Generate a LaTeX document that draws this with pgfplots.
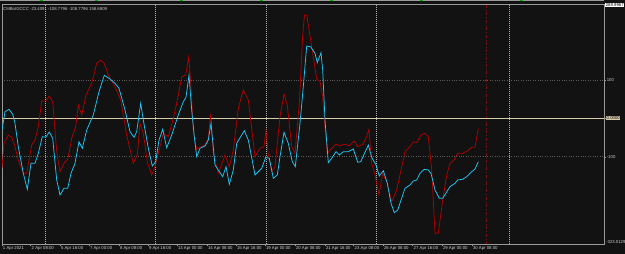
\documentclass[border=0pt]{standalone}
\usepackage{pgfplots}
\pgfplotsset{compat=1.18}
\usepackage{fontspec}
\setmainfont{Liberation Sans}
\definecolor{bg}{HTML}{121212}
\definecolor{framec}{HTML}{9A9A9A}
\definecolor{vgrid}{HTML}{B4B4B4}
\definecolor{hgrid}{HTML}{5A5A5A}
\definecolor{zeroc}{HTML}{D8CBA8}
\definecolor{cblue}{HTML}{1EC8F5}
\definecolor{cred}{HTML}{B00000}
\definecolor{lbl}{HTML}{D0D0D0}
\definecolor{sepred}{HTML}{7A1010}
\newcommand\tf{\fontsize{4.3}{5}\selectfont}
\begin{document}
\begin{tikzpicture}
\path[use as bounding box, fill=bg] (0,0) rectangle (625bp,254bp);
\draw[framec, line width=0.8bp] (0,253.2bp) -- (604bp,253.2bp);
\foreach \gx in {40,95,180,260,330,420,520} {\draw[green!70!black, line width=0.8bp] (\gx bp,253.2bp) -- ++(3bp,0);}
\begin{axis}[at={(2bp,10bp)}, anchor=south west, scale only axis,
  width=602bp, height=240bp,
  xmin=2, xmax=604, ymin=-326.5, ymax=296.9,
  axis background/.style={fill=bg},
  axis line style={framec, line width=0.8bp},
  xtick={2,30.7,60,89,119,148,177,207,236,265,295,325,353.7,383,412.7,442,472},
  xticklabels={1 Apr 2021,2 Apr 08:00,5 Apr 16:00,7 Apr 00:00,8 Apr 08:00,9 Apr 16:00,13 Apr 00:00,14 Apr 08:00,15 Apr 16:00,19 Apr 00:00,20 Apr 08:00,21 Apr 16:00,23 Apr 08:00,26 Apr 08:00,27 Apr 16:00,29 Apr 00:00,30 Apr 08:00},
  ticklabel style={font=\tf, text=lbl},
  xticklabel style={anchor=north west, inner sep=0.5bp, xshift=0.3bp},
  xtick pos=bottom, ytick pos=right, yticklabel pos=right,
  tick align=outside, major tick length=2bp,
  tick style={framec, line width=0.5bp},
  ytick={100,-100}, yticklabels={100,-100},
  yticklabel style={anchor=west, inner sep=0.6bp},
  ymajorgrids, major grid style={hgrid, dotted, line width=0.6bp},
  extra y ticks={0}, extra y tick labels={0.0000},
  extra y tick style={grid=none, yticklabel style={fill=zeroc, text=black, inner sep=0.5bp}},
]
\foreach \vx in {45,155,266,376,509} {\edef\tmp{\noexpand\draw[vgrid, dash pattern=on 0.8bp off 1.2bp, line width=0.5bp] (axis cs:\vx,-326.5) -- (axis cs:\vx,296.9);}\tmp}
\draw[sepred, dash dot, line width=0.6bp] (axis cs:486,-326.5) -- (axis cs:486,296.9);
\draw[zeroc, line width=0.9bp] (axis cs:2,0) -- (axis cs:604,0);
\addplot[cred, line width=0.75bp] coordinates {
(2,-129.9) (4,-64.9) (8.3,-43.4) (11.7,-49.3) (15,-73.8) (18.3,-108.3) (23.3,-142.8) (26.7,-142.8)
(31.7,-69.3) (35,-56.4) (38.3,-21.8) (41.7,44.9) (45.7,44.9) (49.3,57.9) (52.7,43.1) (56.7,-86.7)
(60,-138.7) (64,-116.9) (67.7,-106.5) (71.7,-51.9) (75.7,-21.8) (78.3,34.5) (81.7,8.6) (86,60.5)
(91.7,90.9) (96.7,142.8) (100.7,151.4) (104.3,142.8) (108.3,112.4) (115,82.1) (120.7,47.5)
(126.7,-43.4) (133.3,-116.9) (137.3,-95.3) (140,-13.0) (143.3,-39.0) (147.3,-112.7) (151.7,-147.2)
(155,-125.7) (158.3,-90.9) (163.3,-39.0) (168.3,-47.8) (173.3,0) (176.7,39.0) (181.7,108.0)
(185.7,112.4) (188.7,160.0) (191,82.1) (193.3,-30.4) (196.7,-82.3) (199.3,-75.3) (205,-69.3)
(208.3,-51.9) (210.7,13.0) (213.3,-90.9) (218.3,-142.8) (225,-95.3) (229.3,-125.7) (233.3,-82.3)
(238.3,26.0) (243.3,73.5) (248.3,47.5) (255,-99.7) (260,-77.9) (264,-73.8) (266,-30.4) (268.3,-95.3)
(271.7,-138.7) (275,-125.7) (280,4.2) (284,63.1) (287.3,34.5) (291.7,-73.8) (295,-90.9) (299.3,39.0)
(302.7,216.3) (304.5,268.3) (306.7,268.3) (311.7,185.9) (316.7,102.1) (320,95.1) (322.7,56.1)
(324.3,-4.4) (327.3,-90.9) (331.7,-77.9) (336,-67.5) (340,-71.2) (344.3,-67.5) (349.3,-71.2)
(354.3,-59.0) (357.7,-73.8) (362.7,-67.5) (366,-51.9) (369,-28.6) (371.7,-116.9) (375,-147.2)
(379,-199.2) (382.7,-142.8) (387.3,-168.8) (391.7,-216.6) (396.7,-186.2) (405,-86.7) (410,-73.8)
(413.3,-60.8) (416.7,-63.4) (421,-43.4) (425,-39.0) (428.3,-47.8) (431.7,-134.3) (435,-298.7)
(438.3,-298.7) (442.7,-212.2) (446.7,-147.2) (450,-116.9) (454,-108.3) (457.7,-90.9) (462.7,-90.9)
(467.7,-84.1) (471.7,-75.3) (475,-75.3) (478.3,-26.0)
};
\addplot[cblue, line width=0.75bp] coordinates {
(2,-30.4) (5,17.1) (9,23.4) (12.7,10.4) (15,-13.0) (18.3,-73.8) (23.3,-142.8) (27.3,-184.4)
(31,-116.9) (35,-116.9) (38.3,-90.9) (42.3,-47.8) (45.7,-49.3) (49.3,-35.6) (52.7,-51.9)
(56.7,-160.2) (60,-199.2) (64,-181.8) (67.7,-181.8) (71,-142.8) (75,-116.9) (79,-60.8) (82.3,-77.9)
(86.7,-30.4) (93.3,8.6) (99,69.1) (104.3,111.7) (110,102.1) (115,90.9) (119,77.9) (125,21.6)
(130,-34.8) (134,-49.3) (136.7,-34.8) (140.7,39.0) (143.3,-4.4) (148.3,-77.9) (152.3,-123.9)
(155.7,-112.7) (159,-56.4) (162.7,-28.6) (166.7,-76.4) (171.7,-43.4) (178.3,8.6) (183.3,43.1)
(186,54.5) (189,112.4) (191.7,21.6) (194.3,-47.8) (196.7,-99.7) (200,-77.9) (205,-71.9) (208.3,-56.4)
(211,-13.0) (215,-121.3) (222.7,-151.7) (226,-125.7) (229.3,-171.4) (233.3,-134.3) (236.7,-64.9)
(244.3,-32.2) (248.3,-56.4) (255,-147.2) (261.7,-129.9) (265.7,-101.3) (269.3,-103.9) (273.3,-155.8)
(277.3,-147.2) (280,-99.7) (284,-36.4) (288.3,-64.9) (292.3,-112.7) (295.3,-125.7) (300,-13.0)
(303.3,82.1) (306.7,187.8) (310.7,185.9) (315,168.8) (317.3,144.9) (321,170.4) (322.7,125.4)
(325,-4.4) (328.3,-115.3) (331.7,-103.9) (336,-86.7) (339.3,-95.3) (343.3,-86.7) (348.3,-86.7)
(353.3,-79.7) (357.7,-114.3) (360.7,-112.7) (368.3,-69.3) (371.7,-101.3) (376,-121.3) (379.3,-149.8)
(383.3,-136.1) (387.3,-168.8) (391,-220.7) (394.3,-245.2) (397.7,-238.1) (405,-181.8) (410,-173.2)
(413.3,-162.8) (416.7,-160.2) (420,-142.8) (424.3,-132.4) (428.3,-134.3) (431,-142.8) (435,-186.2)
(439.3,-207.8) (442.7,-207.8) (450,-177.6) (455,-168.8) (457.7,-160.2) (462.7,-158.4) (466.7,-151.7)
(471.7,-138.7) (475,-131.7) (478.3,-112.7)
};
\end{axis}
\node[anchor=west, font=\tf, text=lbl, inner sep=0pt] at (3bp,245bp) {CMBoIGCCC -23.4091 -108.7796 -108.7796 158.6809};
\node[anchor=west, font=\tf, text=black, fill=white, inner sep=0.6bp] at (605bp,249bp) {289.9967};
\node[anchor=west, font=\tf, text=lbl, inner sep=0pt] at (606bp,12bp) {-323.0129};
\end{tikzpicture}
\end{document}
